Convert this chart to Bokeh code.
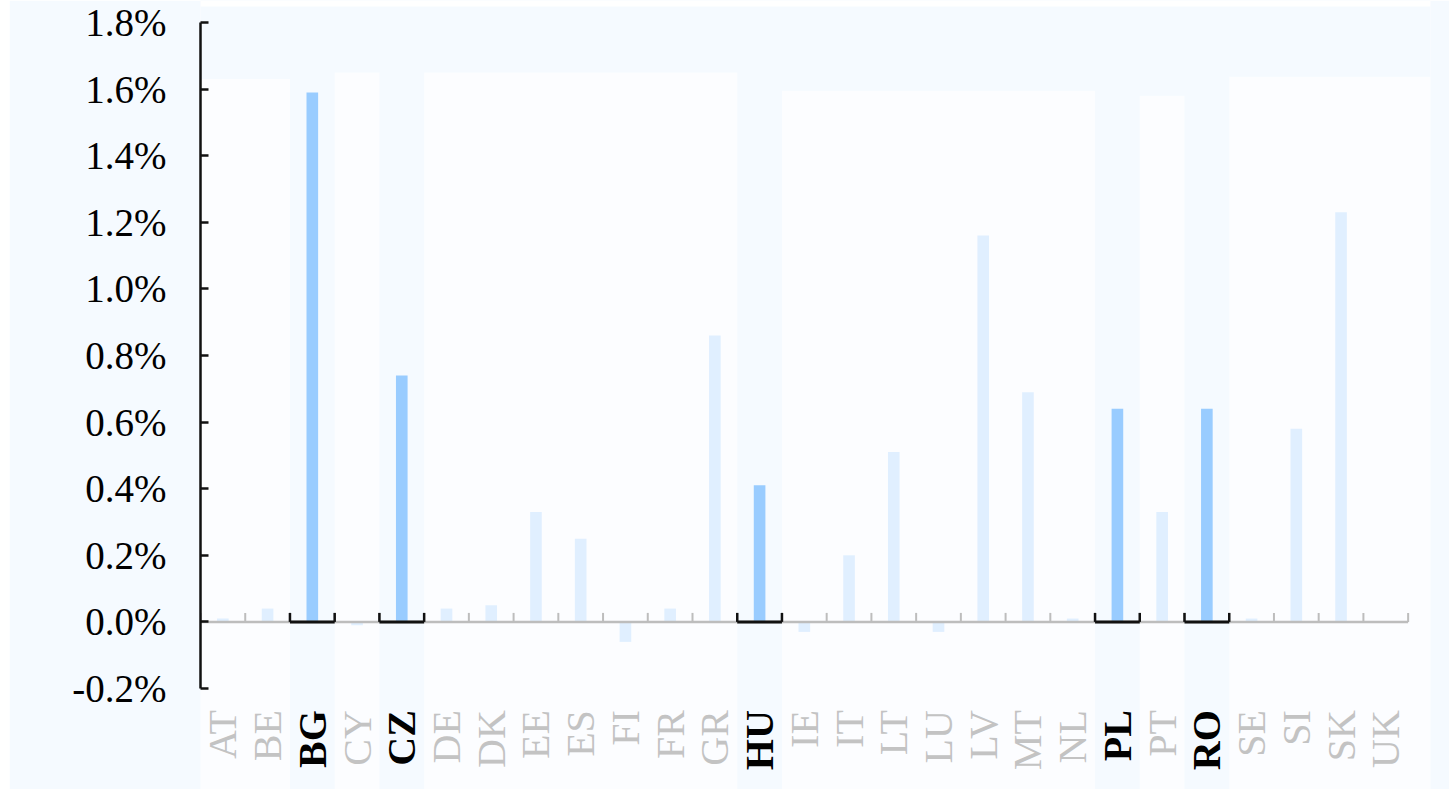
import numpy as np
from bokeh.plotting import figure
from bokeh.models import Range1d, FixedTicker, PrintfTickFormatter, ColumnDataSource
from bokeh.core.properties import value
from bokeh.embed import file_html
from bokeh.resources import INLINE

# ---- data ----
countries = ["AT", "BE", "BG", "CY", "CZ", "DE", "DK", "EE", "ES", "FI", "FR", "GR", "HU",
             "IE", "IT", "LT", "LU", "LV", "MT", "NL", "PL", "PT", "RO", "SE", "SI", "SK", "UK"]
values = [0.01, 0.04, 1.59, -0.01, 0.74, 0.04, 0.05, 0.33, 0.25, -0.06, 0.04, 0.86, 0.41,
          -0.03, 0.20, 0.51, -0.03, 1.16, 0.69, 0.01, 0.64, 0.33, 0.64, 0.01, 0.58, 1.23, 0.0]
highlighted = ["BG", "CZ", "HU", "PL", "RO"]
y_ticks = [-0.2, 0.0, 0.2, 0.4, 0.6, 0.8, 1.0, 1.2, 1.4, 1.6, 1.8]
panel_tops = [1.63, 1.65, 1.65, 1.595, 1.58, 1.637]   # faint background panels

# ---- style ----
BG = "#f5faff"
PANEL = "#fcfdff"
HI_BAR = "#99ccff"
LO_BAR = "#e0efff"
LO_TEXT = "#c3c3c3"
FONT = "Liberation Serif"

n = len(countries)
idx = np.arange(n)
centers = idx + 0.5
is_hi = [c in highlighted for c in countries]

H = 789
PX_PER_UNIT = 333.0
y_hi = 1.8 + 22 / PX_PER_UNIT
y_lo = y_hi - H / PX_PER_UNIT
p = figure(width=1440, height=H, output_backend="svg", toolbar_location=None,
           x_range=Range1d(0, 27.5), y_range=Range1d(y_lo, y_hi),
           x_axis_location=None, y_axis_location="left",
           min_border_left=191, min_border_right=19, min_border_top=0, min_border_bottom=0)
p.margin = (0, 0, 0, 9)
p.background_fill_color = BG
p.border_fill_color = BG
p.outline_line_color = None
p.xgrid.visible = False
p.ygrid.visible = False

# white strip along the top edge of the plotting area
p.quad(left=[0], right=[27.5], bottom=[y_hi - 6 / PX_PER_UNIT], top=[y_hi],
       fill_color="#ffffff", line_color=None)

# background panels over runs of non-highlighted categories
groups = []
start = None
for i, h in enumerate(is_hi):
    if not h and start is None:
        start = i
    if h and start is not None:
        groups.append((start, i))
        start = None
if start is not None:
    groups.append((start, n))
pl = [g[0] for g in groups]
pr = [g[1] for g in groups]
pr[-1] = 27.5
p.quad(left=pl, right=pr, bottom=[y_lo] * len(groups), top=panel_tops[:len(groups)],
       fill_color=PANEL, line_color=None)

# bars
src = ColumnDataSource(dict(x=centers, top=values,
                            color=[HI_BAR if h else LO_BAR for h in is_hi]))
p.vbar(x="x", top="top", bottom=0, width=0.26, fill_color="color", line_color=None, source=src)

# baseline at zero with upward ticks
p.segment(x0=[0], y0=[0], x1=[n], y1=[0], line_color="#bdbdbd", line_width=2.5)
tick_len = 0.027
p.segment(x0=list(range(n + 1)), y0=[0] * (n + 1), x1=list(range(n + 1)),
          y1=[tick_len] * (n + 1), line_color="#bdbdbd", line_width=2)

# highlighted baseline segments
hi_idx = [i for i, h in enumerate(is_hi) if h]
p.segment(x0=hi_idx, y0=[0] * len(hi_idx), x1=[i + 1 for i in hi_idx], y1=[0] * len(hi_idx),
          line_color="#111111", line_width=3)
tick_x = sorted(set([i for i in hi_idx] + [i + 1 for i in hi_idx]))
p.segment(x0=tick_x, y0=[0] * len(tick_x), x1=tick_x, y1=[tick_len] * len(tick_x),
          line_color="#111111", line_width=2.5)

# category labels (rotated)
label_y = -0.265
lo_idx = [i for i, h in enumerate(is_hi) if not h]
p.text(x=[centers[i] for i in lo_idx], y=[label_y] * len(lo_idx),
       text=[countries[i] for i in lo_idx], angle=np.pi / 2,
       text_align="right", text_baseline="middle",
       text_font=value(FONT), text_font_size="40px", text_color=LO_TEXT)
p.text(x=[centers[i] for i in hi_idx], y=[label_y] * len(hi_idx),
       text=[countries[i] for i in hi_idx], angle=np.pi / 2,
       text_align="right", text_baseline="middle",
       text_font=value(FONT), text_font_size="40px", text_font_style="bold",
       text_color="#000000")

# y axis
ya = p.yaxis[0]
ya.bounds = (-0.2, 1.8)
ya.ticker = FixedTicker(ticks=y_ticks)
ya.formatter = PrintfTickFormatter(format="%.1f%%")
ya.axis_line_color = "#111111"
ya.axis_line_width = 2.5
ya.major_tick_in = 8
ya.major_tick_out = 0
ya.major_tick_line_color = "#111111"
ya.major_tick_line_width = 2.5
ya.minor_tick_line_color = None
ya.major_label_standoff = 34
ya.major_label_text_font = FONT
ya.major_label_text_font_size = "39px"
ya.major_label_text_color = "#000000"

open("out.html", "w").write(file_html(p, INLINE))
